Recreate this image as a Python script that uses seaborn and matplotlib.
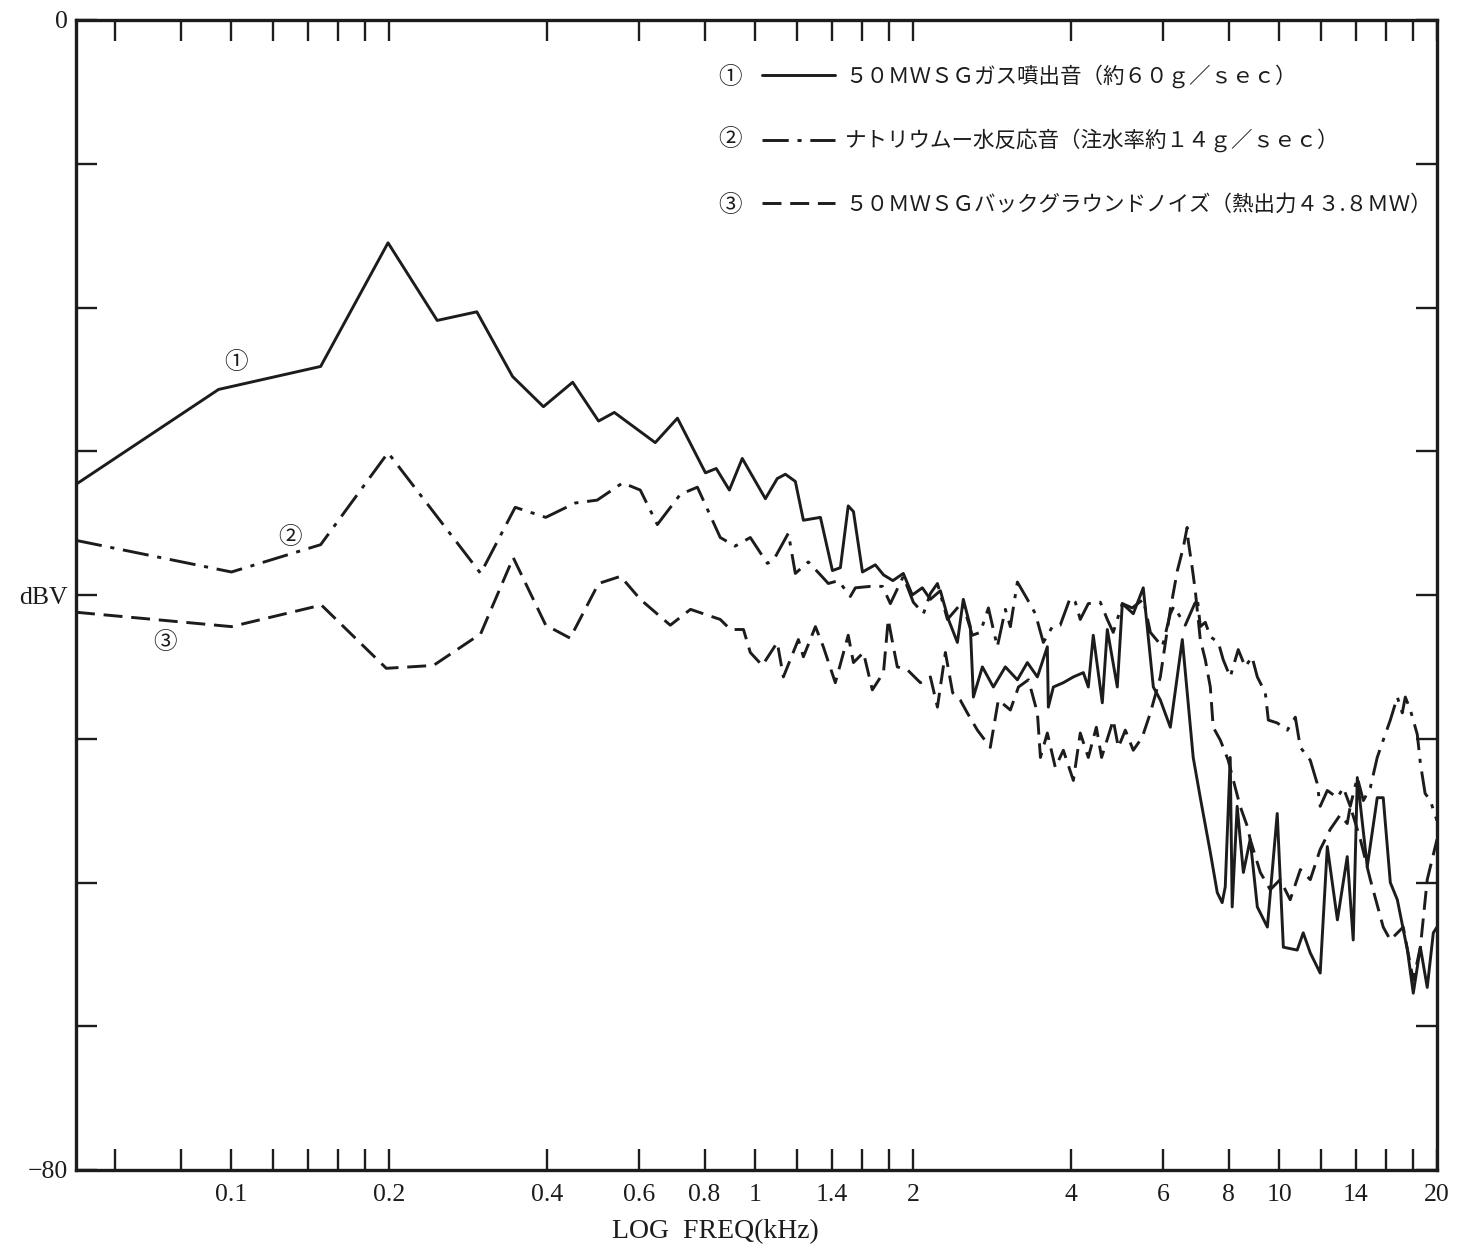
import matplotlib
matplotlib.use("Agg")
import matplotlib.pyplot as plt
import seaborn as sns
import pandas as pd
from matplotlib.lines import Line2D
from matplotlib.ticker import NullLocator

# ---------------- data ----------------
freq1 = [0.0505, 0.0945, 0.148, 0.199, 0.247, 0.294, 0.344, 0.394, 0.448, 0.502,
         0.538, 0.644, 0.710, 0.803, 0.842, 0.892, 0.944, 1.045, 1.101, 1.141,
         1.192, 1.235, 1.331, 1.403, 1.453, 1.504, 1.539, 1.601, 1.694, 1.756,
         1.83, 1.916, 1.993, 2.083, 2.158, 2.255, 2.336, 2.43, 2.494, 2.572,
         2.607, 2.712, 2.846, 3.00, 3.163, 3.305, 3.454, 3.608, 3.624, 3.705,
         3.871, 4.045, 4.227, 4.32, 4.415, 4.594, 4.696, 4.907, 5.016, 5.264,
         5.50, 5.749, 5.928, 6.195, 6.53, 6.85, 7.067, 7.385, 7.614, 7.78,
         7.886, 8.06, 8.13, 8.31, 8.54, 8.80, 9.08, 9.49, 9.91, 10.18,
         10.82, 11.11, 11.46, 11.97, 12.35, 12.91, 13.48, 13.84, 14.09, 14.72,
         15.38, 15.79, 16.29, 16.80, 17.56, 18.02, 18.59, 19.16, 19.68, 20.0]
db1 = [-32.3, -25.7, -24.1, -15.5, -20.9, -20.3, -24.8, -26.9, -25.2, -27.9,
       -27.3, -29.4, -27.7, -31.5, -31.2, -32.7, -30.5, -33.3, -31.9, -31.6,
       -32.1, -34.8, -34.6, -38.3, -38.1, -33.8, -34.2, -38.4, -37.9, -38.6,
       -39.0, -38.5, -40.0, -39.5, -40.3, -39.7, -41.7, -43.3, -40.3, -42.2,
       -47.1, -45.0, -46.4, -45.0, -45.9, -44.7, -45.7, -43.6, -47.8, -46.4,
       -46.1, -45.7, -45.4, -46.4, -42.8, -47.5, -42.4, -46.4, -40.6, -41.3,
       -39.5, -46.4, -47.3, -49.2, -43.1, -51.3, -54.1, -57.9, -60.7, -61.4,
       -60.3, -51.3, -61.7, -54.7, -59.3, -57.0, -61.7, -63.1, -55.2, -64.5,
       -64.7, -63.5, -64.9, -66.3, -57.5, -62.6, -58.2, -64.0, -52.7, -58.9,
       -54.1, -54.1, -60.0, -61.2, -64.7, -67.7, -64.5, -67.3, -63.5, -63.1]

freq2 = [0.0505, 0.100, 0.148, 0.199, 0.299, 0.348, 0.398, 0.453, 0.499, 0.558,
         0.603, 0.650, 0.719, 0.775, 0.857, 0.915, 0.978, 1.054, 1.082, 1.156,
         1.192, 1.262, 1.331, 1.378, 1.44, 1.518, 1.552, 1.658, 1.748, 1.81,
         1.916, 2.002, 2.093, 2.158, 2.226, 2.326, 2.483, 2.595, 2.687, 2.785,
         2.896, 3.000, 3.067, 3.163, 3.305, 3.423, 3.545, 3.689, 3.818, 3.99,
         4.08, 4.17, 4.32, 4.554, 4.696, 4.82, 5.016, 5.24, 5.50, 5.675,
         5.98, 6.195, 6.29, 6.616, 6.82, 6.975, 7.067, 7.224, 7.385, 7.65,
         7.815, 8.06, 8.35, 8.611, 8.87, 9.08, 9.404, 9.53, 9.91, 10.36,
         10.73, 10.97, 11.46, 11.81, 11.97, 12.35, 12.91, 13.25, 13.66, 14.09,
         14.47, 14.92, 15.38, 15.79, 16.29, 16.80, 17.17, 17.40, 17.79, 18.34,
         18.59, 18.98, 19.42, 20.0]
db2 = [-36.2, -38.4, -36.5, -30.1, -38.5, -33.9, -34.6, -33.6, -33.4, -32.2,
       -32.7, -35.1, -33.0, -32.5, -36.0, -36.6, -36.0, -37.8, -37.6, -35.7,
       -38.5, -37.7, -38.6, -39.2, -39.0, -40.1, -39.5, -39.4, -39.4, -40.6,
       -38.7, -40.5, -41.3, -39.9, -39.2, -41.7, -40.5, -42.8, -42.6, -40.9,
       -43.6, -41.0, -42.2, -39.1, -40.3, -41.3, -43.3, -42.2, -42.1, -40.2,
       -40.5, -41.7, -40.6, -40.5, -41.7, -42.6, -40.6, -40.9, -40.3, -42.6,
       -43.6, -41.3, -40.8, -42.1, -41.0, -40.2, -42.2, -41.9, -42.9, -43.3,
       -44.5, -45.7, -43.8, -45.0, -44.3, -45.7, -46.8, -48.7, -48.9, -49.4,
       -48.5, -50.6, -51.5, -53.1, -54.7, -53.6, -54.1, -53.4, -54.7, -52.7,
       -54.3, -53.4, -51.3, -50.1, -48.7, -47.1, -48.2, -47.1, -48.0, -49.7,
       -51.7, -53.8, -54.3, -55.7]

freq3 = [0.0505, 0.100, 0.1485, 0.1975, 0.243, 0.299, 0.345, 0.398, 0.443, 0.502,
         0.553, 0.603, 0.688, 0.752, 0.857, 0.896, 0.949, 0.978, 1.031, 1.101,
         1.131, 1.208, 1.235, 1.302, 1.348, 1.421, 1.504, 1.539, 1.608, 1.672,
         1.756, 1.793, 1.834, 1.866, 1.95, 2.065, 2.158, 2.226, 2.305, 2.38,
         2.46, 2.538, 2.653, 2.808, 2.909, 3.067, 3.178, 3.32, 3.454, 3.50,
         3.608, 3.737, 3.871, 4.045, 4.17, 4.32, 4.475, 4.58, 4.82, 4.93,
         5.083, 5.264, 5.475, 5.675, 5.928, 6.195, 6.39, 6.557, 6.67, 6.70,
         6.82, 6.913, 7.067, 7.224, 7.385, 7.48, 7.718, 7.99, 8.241, 8.42,
         8.69, 8.80, 9.2, 9.61, 10.04, 10.49, 10.97, 11.46, 11.97, 12.51,
         13.07, 13.48, 13.66, 14.28, 14.92, 15.79, 16.29, 17.24, 18.02, 18.59,
         19.16, 20.0]
db3 = [-41.2, -42.2, -40.7, -45.1, -44.9, -42.7, -37.4, -42.1, -43.0, -39.2,
       -38.7, -40.3, -42.1, -41.0, -41.7, -42.4, -42.4, -44.0, -44.9, -43.3,
       -45.7, -43.1, -44.3, -42.2, -43.6, -46.1, -42.8, -44.7, -44.0, -46.6,
       -45.4, -41.7, -43.6, -45.0, -45.2, -46.1, -45.7, -47.8, -44.0, -46.8,
       -47.3, -48.2, -49.4, -50.6, -47.3, -48.0, -46.4, -45.9, -48.2, -51.3,
       -49.6, -52.0, -50.8, -52.9, -49.6, -51.3, -49.2, -51.3, -48.7, -50.6,
       -49.4, -50.8, -49.9, -48.2, -45.7, -41.0, -38.3, -36.7, -35.3, -36.2,
       -38.1, -39.7, -43.1, -44.5, -46.4, -49.2, -50.1, -51.5, -53.4, -54.7,
       -56.1, -57.0, -59.3, -60.5, -59.8, -61.2, -59.1, -59.8, -57.7, -56.3,
       -55.3, -55.9, -54.7, -57.0, -59.8, -63.1, -64.0, -63.1, -66.8, -64.5,
       -59.8, -57.0]

series_labels = ["５０ＭＷＳＧガス噴出音（約６０ｇ／ｓｅｃ）",
                 "ナトリウムー水反応音（注水率約１４ｇ／ｓｅｃ）",
                 "５０ＭＷＳＧバックグラウンドノイズ（熱出力４３.８ＭＷ）"]
series_marks = ["①", "②", "③"]

xtick_values = [0.06, 0.08, 0.1, 0.12, 0.14, 0.16, 0.18, 0.2, 0.4, 0.6, 0.8,
                1, 1.2, 1.4, 1.6, 1.8, 2, 4, 6, 8, 10, 12, 14, 16, 18, 20]
xtick_labels = ["", "", "0.1", "", "", "", "", "0.2", "0.4", "0.6", "0.8",
                "1", "", "1.4", "", "", "2", "4", "6", "8", "10", "", "14", "", "", "20"]
ytick_values = [0, -10, -20, -30, -40, -50, -60, -70, -80]
ytick_labels = ["0", "", "", "", "dBV", "", "", "", "−80"]

# ---------------- style ----------------
sns.set_theme(style="white")
plt.rcParams["font.family"] = ["Liberation Serif", "Noto Sans CJK JP", "DejaVu Sans"]
plt.rcParams["axes.unicode_minus"] = True

INK = "#1c1c1c"
LW = 2.1
styles = ["-", (0, (9, 3, 1.4, 3)), (0, (6.5, 3))]

fig = plt.figure(figsize=(14.6, 12.49), dpi=100)
ax = fig.add_axes([76 / 1460, 1 - 1170 / 1249, 1361 / 1460, 1150 / 1249])

for fx, dy, ls in [(freq1, db1, styles[0]), (freq2, db2, styles[1]), (freq3, db3, styles[2])]:
    df = pd.DataFrame({"freq": fx, "db": dy})
    sns.lineplot(data=df, x="freq", y="db", ax=ax, color=INK, linewidth=LW,
                 linestyle=ls, estimator=None, sort=False, legend=False)

ax.set_xscale("log")
ax.set_xlim(0.0505, 20.0)
ax.set_ylim(-80, 0)
ax.set_xticks(xtick_values)
ax.set_xticklabels(xtick_labels)
ax.xaxis.set_minor_locator(NullLocator())
ax.set_yticks(ytick_values)
ax.set_yticklabels(ytick_labels)
ax.tick_params(axis="both", which="major", direction="in", length=15, width=1.7,
               colors=INK, bottom=True, left=True, top=True, right=True,
               labelbottom=True, labelleft=True, labeltop=False, labelright=False,
               labelsize=18.5)
ax.tick_params(axis="x", pad=10)
ax.tick_params(axis="y", pad=6)
for s in ax.spines.values():
    s.set_linewidth(2.4)
    s.set_color(INK)

ax.set_xlabel("LOG  FREQ(kHz)", fontsize=20, color=INK)
ax.xaxis.set_label_coords((715 - 76) / 1361, -(1232 - 1170) / 1150)
ax.xaxis.label.set_va("center")
ax.set_ylabel("")

# legend
handles = [Line2D([], [], color=INK, lw=LW, linestyle=ls) for ls in styles]
leg = ax.legend(handles, series_labels, loc="upper left",
                bbox_to_anchor=((762 - 76) / 1361, 1 - (64 - 20) / 1150),
                borderaxespad=0, borderpad=0, frameon=False, handlelength=3.4,
                handletextpad=0.45, labelspacing=1.9,
                prop={"family": ["Noto Sans CJK JP"], "size": 15.5})
for t in leg.get_texts():
    t.set_color(INK)
for mk, yy in zip(series_marks, [77, 140, 205]):
    ax.text((730 - 76) / 1361, 1 - (yy - 20) / 1150, mk, transform=ax.transAxes,
            ha="center", va="center", fontsize=17, color=INK,
            family=["Noto Sans CJK JP"])

# curve tags
for mk, fx, dy in zip(series_marks, [0.102, 0.1296, 0.0748], [-23.8, -36.0, -43.3]):
    ax.text(fx, dy, mk, ha="center", va="center", fontsize=17, color=INK,
            family=["Noto Sans CJK JP"])

fig.savefig("out.png", dpi=100, facecolor="white")
